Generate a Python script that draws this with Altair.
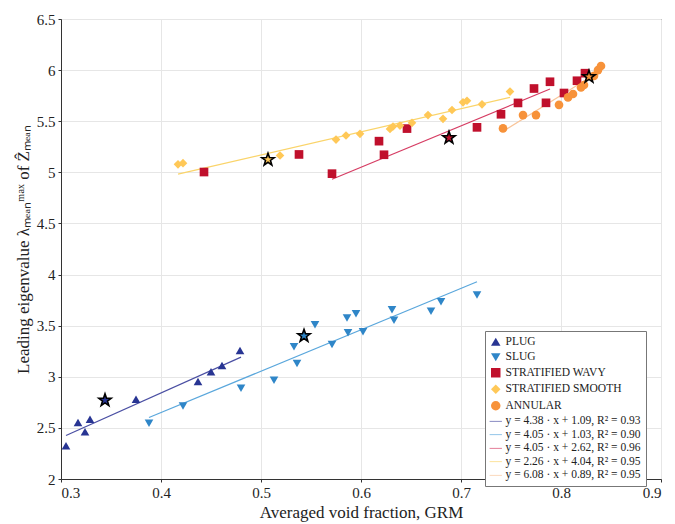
import altair as alt
import pandas as pd

FONT = "Liberation Serif"

# ---------------- data ----------------
plug_x = [0.305, 0.317, 0.324, 0.329, 0.375, 0.437, 0.450, 0.461, 0.479]
plug_y = [2.325, 2.553, 2.462, 2.585, 2.780, 2.953, 3.050, 3.110, 3.257]

slug_x = [0.388, 0.422, 0.480, 0.513, 0.533, 0.536, 0.554, 0.571, 0.586, 0.587,
          0.595, 0.602, 0.631, 0.633, 0.670, 0.680, 0.716]
slug_y = [2.546, 2.715, 2.887, 2.965, 3.293, 3.130, 3.510, 3.315, 3.575, 3.430,
          3.617, 3.440, 3.656, 3.552, 3.640, 3.734, 3.800]

sw_x = [0.443, 0.538, 0.571, 0.618, 0.623, 0.646, 0.716, 0.740, 0.757, 0.773,
        0.785, 0.789, 0.803, 0.816, 0.824]
sw_y = [5.003, 5.175, 4.987, 5.305, 5.172, 5.428, 5.440, 5.568, 5.679, 5.820,
        5.680, 5.886, 5.776, 5.896, 5.970]

ss_x = [0.417, 0.422, 0.519, 0.575, 0.585, 0.599, 0.629, 0.632, 0.639, 0.651,
        0.667, 0.682, 0.691, 0.702, 0.706, 0.721, 0.749]
ss_y = [5.078, 5.090, 5.165, 5.320, 5.360, 5.377, 5.425, 5.448, 5.457, 5.484,
        5.560, 5.523, 5.610, 5.685, 5.700, 5.665, 5.790]

an_x = [0.742, 0.762, 0.775, 0.798, 0.807, 0.812, 0.820, 0.823, 0.833, 0.837, 0.840]
an_y = [5.430, 5.560, 5.560, 5.660, 5.733, 5.766, 5.830, 5.854, 5.944, 6.000, 6.040]

# representative (mean) points shown as stars
star_x = [0.344, 0.543, 0.688, 0.507, 0.828]
star_y = [2.770, 3.400, 5.338, 5.124, 5.935]

# fitted lines: end points
fit_x0 = [0.305, 0.388, 0.571, 0.417, 0.742]
fit_x1 = [0.480, 0.716, 0.789, 0.749, 0.840]
fit_y0 = [2.426, 2.601, 4.933, 4.982, 5.401]
fit_y1 = [3.192, 3.930, 5.815, 5.733, 5.997]

regimes = ["PLUG", "SLUG", "STRATIFIED WAVY", "STRATIFIED SMOOTH", "ANNULAR"]
fit_labels = [
    "y = 4.38 · x + 1.09, R² = 0.93",
    "y = 4.05 · x + 1.03, R² = 0.90",
    "y = 4.05 · x + 2.62, R² = 0.96",
    "y = 2.26 · x + 4.04, R² = 0.95",
    "y = 6.08 · x + 0.89, R² = 0.95",
]
marker_colors = ["#283593", "#2f86c8", "#c0102c", "#ffc857", "#f7923a"]
line_colors = ["#4a4fa3", "#5aa7dc", "#d63c63", "#fad46a", "#f9c59a"]
shapes = ["triangle-up", "triangle-down", "square", "diamond", "circle"]
LINE_SYMBOL = "M-1.3,-0.07L1.3,-0.07L1.3,0.07L-1.3,0.07Z"
STAR_SYMBOL = ("M0,-1L0.235,-0.324L0.951,-0.309L0.380,0.124L0.588,0.809L0,0.4"
               "L-0.588,0.809L-0.380,0.124L-0.951,-0.309L-0.235,-0.324Z")

# ---------------- tables ----------------
xs = [plug_x, slug_x, sw_x, ss_x, an_x]
ys = [plug_y, slug_y, sw_y, ss_y, an_y]
pts = pd.DataFrame(
    [{"x": x, "y": y, "series": regimes[i]} for i in range(5) for x, y in zip(xs[i], ys[i])]
)
lines = pd.DataFrame(
    [{"x": fit_x0[i], "y": fit_y0[i], "fit": fit_labels[i]} for i in range(5)]
    + [{"x": fit_x1[i], "y": fit_y1[i], "fit": fit_labels[i]} for i in range(5)]
)

domain = regimes + fit_labels
fill_scale = alt.Scale(domain=domain, range=marker_colors + line_colors)
shape_scale = alt.Scale(domain=domain, range=shapes + [LINE_SYMBOL] * 5)
line_scale = alt.Scale(domain=fit_labels, range=line_colors)

xsc = alt.Scale(domain=[0.3, 0.9], nice=False, zero=False)
ysc = alt.Scale(domain=[2, 6.5], nice=False, zero=False)

x_enc = alt.X("x:Q", scale=xsc, title="Averaged void fraction, GRM",
              axis=alt.Axis(values=[0.3, 0.4, 0.5, 0.6, 0.7, 0.8, 0.9],
                            labelExpr="'' + datum.value", titlePadding=4))
y_enc = alt.Y("y:Q", scale=ysc, title="Leading eigenvalue λₘₑₐₙᵐᵃˣ of Ẑₘₑₐₙ",
              axis=alt.Axis(values=[2, 2.5, 3, 3.5, 4, 4.5, 5, 5.5, 6, 6.5],
                            labelExpr="'' + datum.value", titlePadding=4))

line_layer = alt.Chart(lines).mark_line(strokeWidth=1.2).encode(
    x=x_enc, y=y_enc,
    color=alt.Color("fit:N", scale=line_scale, legend=None),
)

leg = alt.Legend(title=None)
point_layer = alt.Chart(pts).mark_point(filled=True, opacity=1, size=75).encode(
    x="x:Q", y="y:Q",
    fill=alt.Fill("series:N", scale=fill_scale, legend=leg),
    shape=alt.Shape("series:N", scale=shape_scale, legend=leg),
)

star_layers = []
for i in range(5):
    sdf = pd.DataFrame({"x": [star_x[i]], "y": [star_y[i]]})
    star_layers.append(
        alt.Chart(sdf).mark_point(shape=STAR_SYMBOL, filled=True, fill=marker_colors[i],
                                  stroke="black", strokeWidth=1.6, size=170, opacity=1)
        .encode(x="x:Q", y="y:Q")
    )

chart = alt.layer(line_layer, point_layer, *star_layers).properties(
    width=600, height=460,
    autosize=alt.AutoSizeParams(type="none"),
    padding={"left": 53, "top": 11, "right": 5, "bottom": 45},
).configure_view(
    stroke="#333333", strokeWidth=1
).configure_axis(
    labelFont=FONT, titleFont=FONT, labelFontSize=15, titleFontSize=17,
    titleFontWeight="normal", labelColor="#222222", titleColor="#222222",
    gridColor="#e6e6e6", domainColor="#333333", tickColor="#333333",
    tickSize=3, labelPadding=3,
).configure_legend(
    orient="none", legendX=424, legendY=312,
    labelFont=FONT, labelFontSize=11.5, labelColor="#222222",
    fillColor="white", strokeColor="#777777", padding=5,
    symbolSize=90, rowPadding=0.5, labelLimit=300,
)

chart.save("out.html", embed_options={"renderer": "svg", "actions": False})
